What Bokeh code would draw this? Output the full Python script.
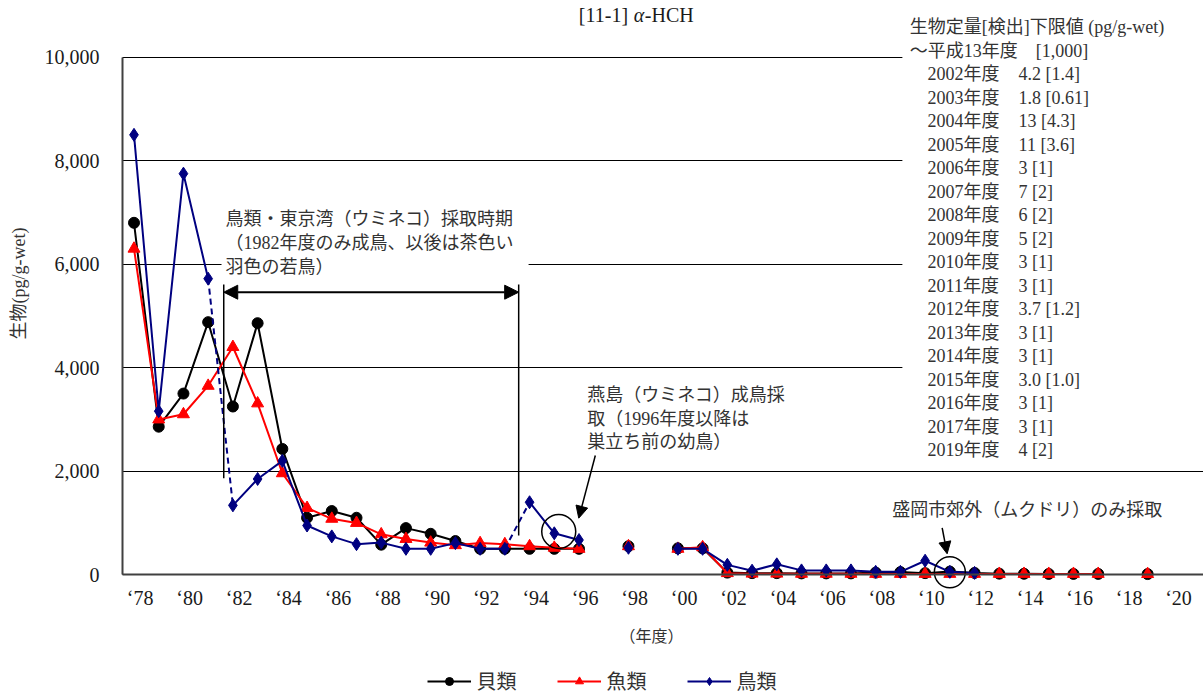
import math
from bokeh.plotting import figure
from bokeh.models import (Range1d, FixedTicker, NumeralTickFormatter, Legend, LegendItem,
                          Label, BoxAnnotation, Arrow, NormalHead)
from bokeh.core.properties import value
from bokeh.embed import file_html
from bokeh.resources import INLINE

FONT = "'Liberation Serif', 'Noto Sans CJK JP'"
TXT = "#333333"

# ---------------- data ----------------
years = list(range(1978, 2020))
shellfish = [6800, 2860, 3500, 4880, 3250, 4860, 2430, 1100, 1230, 1100,
             580, 900, 790, 650, 500, 500, 500, 500, 500, None,
             550, None, 510, 510, 40, 30, 30, 25, 25, 25,
             40, 50, 30, 60, 35, 20, 18, 15, 15, 15,
             None, 12]
fish = [6300, 3000, 3100, 3650, 4400, 3310, 1960, 1290, 1080, 1000,
        780, 690, 620, 570, 610, 590, 550, 520, 500, None,
        550, None, 500, 530, 30, 20, 20, 18, 18, 18,
        15, 15, 15, 15, 15, 15, 15, 15, 15, 15,
        None, 12]
birds = [8500, 3160, 7750, 5720, 1340, 1850, 2200, 950, 740, 590,
         620, 500, 500, 610, 500, 500, 1400, 800, 670, None,
         520, None, 500, 500, 190, 77, 200, 83, 83, 83,
         55, 55, 270, 55, 35, None, None, None, None, None,
         None, None]
bird_dashed_after = [1981, 1993]   # sampling-site changes (dashed link)

series_names = ["貝類", "魚類", "鳥類"]
tick_years = list(range(1978, 2021, 2))
tick_labels = ["‘78", "‘80", "‘82", "‘84", "‘86", "‘88", "‘90", "‘92", "‘94", "‘96", "‘98",
               "‘00", "‘02", "‘04", "‘06", "‘08", "‘10", "‘12", "‘14", "‘16", "‘18", "‘20"]
y_ticks = [0, 2000, 4000, 6000, 8000, 10000]

title_parts = ["[11-1]", "α", "-HCH"]
y_label = "生物(pg/g-wet)"
x_label = "（年度）"

note_header = "生物定量[検出]下限値 (pg/g-wet)"
note_early = ["～平成13年度", "[1,000]"]
note_years = ["2002年度", "2003年度", "2004年度", "2005年度", "2006年度", "2007年度",
              "2008年度", "2009年度", "2010年度", "2011年度", "2012年度", "2013年度",
              "2014年度", "2015年度", "2016年度", "2017年度", "2019年度"]
note_values = ["4.2 [1.4]", "1.8 [0.61]", "13 [4.3]", "11 [3.6]", "3 [1]", "7 [2]",
               "6 [2]", "5 [2]", "3 [1]", "3 [1]", "3.7 [1.2]", "3 [1]",
               "3 [1]", "3.0 [1.0]", "3 [1]", "3 [1]", "4 [2]"]

ann1 = ["鳥類・東京湾（ウミネコ）採取時期", "（1982年度のみ成鳥、以後は茶色い", "羽色の若鳥）"]
ann2 = ["燕島（ウミネコ）成鳥採", "取（1996年度以降は", "巣立ち前の幼鳥）"]
ann3 = ["盛岡市郊外（ムクドリ）のみ採取"]


def nn(v):
    return [float("nan") if x is None else x for x in v]


# plot-area extent (axis lines) and the full canvas ranges
X0, X1 = 1977.53, 2021.26
p = figure(width=1203, height=696, output_backend="svg", toolbar_location=None,
           x_range=Range1d(1972.60, 2021.26), y_range=Range1d(-2354, 11096),
           min_border=0)
p.outline_line_color = None
p.background_fill_color = "white"
p.border_fill_color = "white"

# axes drawn at fixed locations inside the canvas
xa = p.xaxis[0]
xa.fixed_location = 0
xa.bounds = (X0, X1)
xa.ticker = FixedTicker(ticks=[t + 0.25 for t in tick_years])
xa.major_label_overrides = {t + 0.25: lab for t, lab in zip(tick_years, tick_labels)}
xa.axis_line_color = "#404040"
xa.axis_line_width = 2
xa.major_tick_line_color = None
xa.minor_tick_line_color = None
xa.major_tick_out = 0
xa.major_tick_in = 0
xa.major_label_text_font = FONT
xa.major_label_text_font_size = "20px"
xa.major_label_text_color = "#1a1a1a"
xa.major_label_standoff = 12

ya = p.yaxis[0]
ya.fixed_location = X0
ya.ticker = FixedTicker(ticks=y_ticks)
ya.formatter = NumeralTickFormatter(format="0,0")
ya.bounds = (0, 10000)
ya.axis_line_color = "#404040"
ya.axis_line_width = 2
ya.major_tick_line_color = None
ya.minor_tick_line_color = None
ya.major_tick_out = 0
ya.major_tick_in = 0
ya.major_label_text_font = FONT
ya.major_label_text_font_size = "20px"
ya.major_label_text_color = "#1a1a1a"
ya.major_label_standoff = 23

p.xgrid.visible = False
p.ygrid.ticker = FixedTicker(ticks=y_ticks)
p.ygrid.grid_line_color = "black"
p.ygrid.grid_line_width = 1
try:
    p.ygrid.cross_bounds = (X0, X1)
except Exception:
    p.ygrid.visible = False
    p.segment([X0] * len(y_ticks), y_ticks, [X1] * len(y_ticks), y_ticks,
              line_color="black", line_width=1, level="underlay")

# axis titles
p.add_layout(Label(x=1973.36, y=5627, text=y_label, angle=math.pi / 2, text_font=FONT,
                   text_font_size="18px", text_align="center", text_baseline="middle",
                   text_color=TXT))
p.add_layout(Label(x=1998.93, y=-1194, text=x_label, text_font=FONT,
                   text_font_size="16px", text_align="center", text_baseline="middle",
                   text_color=TXT))

# white boxes behind the text blocks (they interrupt the gridlines)
p.add_layout(BoxAnnotation(left=2009.08, bottom=2149, fill_color="white", fill_alpha=1,
                           line_color=None, level="underlay"))
p.add_layout(BoxAnnotation(left=1981.54, right=1993.96, bottom=5704, top=7173,
                           fill_color="white", fill_alpha=1, line_color=None, level="underlay"))

# ---------------- series ----------------
lb = p.line(years, nn(shellfish), line_color="black", line_width=2)
sb = p.scatter(years, nn(shellfish), marker="circle", size=11, fill_color="black", line_color="black")

lr = p.line(years, nn(fish), line_color="#FF0000", line_width=2)
sr = p.scatter(years, nn(fish), marker="triangle", size=12, fill_color="#FF0000", line_color="#FF0000")

bx, by = [], []
for yr, v in zip(years, birds):
    bx.append(yr)
    by.append(float("nan") if v is None else v)
    if yr in bird_dashed_after:
        bx.append(float("nan"))
        by.append(float("nan"))
ln = p.line(bx, by, line_color="#000080", line_width=2)
dx0 = [yr for yr in bird_dashed_after]
dy0 = [birds[years.index(yr)] for yr in bird_dashed_after]
dx1 = [yr + 1 for yr in bird_dashed_after]
dy1 = [birds[years.index(yr) + 1] for yr in bird_dashed_after]
p.segment(dx0, dy0, dx1, dy1, line_color="#000080", line_width=2, line_dash="6 4")
sn = p.scatter(years, nn(birds), marker="diamond", size=13, fill_color="#000080", line_color="#000080")

# ---------------- annotations ----------------
for xv, ybot in [(1981.63, 1865), (1993.56, 757)]:
    p.add_layout(Arrow(x_start=xv, y_start=5608, x_end=xv, y_end=ybot, start=None, end=None,
                       line_color="black", line_width=1.5))
p.add_layout(Arrow(x_start=1981.63, y_start=5459, x_end=1993.56, y_end=5459,
                   start=NormalHead(size=14, fill_color="black", line_color="black"),
                   end=NormalHead(size=14, fill_color="black", line_color="black"),
                   line_color="black", line_width=2))
p.text([1981.70] * 3, [6877 - 468 * i for i in range(3)], ann1,
       text_font=value(FONT), text_font_size="18px", text_baseline="middle",
       text_align="left", text_color=TXT)

p.text([1996.33] * 3, [3463 - 451 * i for i in range(3)], ann2,
       text_font=value(FONT), text_font_size="18px", text_baseline="middle",
       text_align="left", text_color=TXT)
p.add_layout(Arrow(x_start=1996.66, y_start=2303, x_end=1995.99, y_end=1092,
                   end=NormalHead(size=12, fill_color="black", line_color="black"),
                   line_color="black", line_width=1.5))
p.scatter([1995.18], [835], marker="circle", size=34, fill_alpha=0, line_color="black", line_width=1.5)

p.text([2008.67], [1241], ann3,
       text_font=value(FONT), text_font_size="18px", text_baseline="middle",
       text_align="left", text_color=TXT)
p.add_layout(Arrow(x_start=2010.69, y_start=906, x_end=2010.89, y_end=404,
                   end=NormalHead(size=12, fill_color="black", line_color="black"),
                   line_color="black", line_width=1.5))
p.scatter([2011.0], [48], marker="circle", size=31, fill_alpha=0, line_color="black", line_width=1.5)

# detection-limit note (top right)
step = 454
y0 = 10580
p.text([2009.38], [y0], [note_header], text_font=value(FONT), text_font_size="18px",
       text_baseline="middle", text_align="left", text_color=TXT)
p.text([2009.38, 2014.47], [y0 - step] * 2, note_early, text_font=value(FONT),
       text_font_size="18px", text_baseline="middle", text_align="left", text_color=TXT)
ny = [y0 - step * (i + 2) for i in range(len(note_years))]
p.text([2010.10] * len(note_years), ny, note_years, text_font=value(FONT),
       text_font_size="18px", text_baseline="middle", text_align="left", text_color=TXT)
p.text([2013.78] * len(note_values), ny, note_values, text_font=value(FONT),
       text_font_size="18px", text_baseline="middle", text_align="left", text_color=TXT)

# title
for txt, off, style in zip(title_parts, [-57, -2, 9], ["normal", "italic", "normal"]):
    p.add_layout(Label(x=1998.3, y=10825, x_offset=off, text=txt, text_font=FONT,
                       text_font_size="20px", text_font_style=style, text_baseline="middle",
                       text_align="left", text_color="#1a1a1a"))

# legend
legend = Legend(items=[LegendItem(label=series_names[0], renderers=[lb, sb]),
                       LegendItem(label=series_names[1], renderers=[lr, sr]),
                       LegendItem(label=series_names[2], renderers=[ln, sn])],
                orientation="horizontal", location="bottom_center",
                glyph_width=44, glyph_height=20, label_standoff=6, spacing=40,
                padding=0, margin=1, border_line_color=None, background_fill_alpha=0,
                label_text_font=FONT, label_text_font_size="20px", label_text_color=TXT)
p.add_layout(legend)

open("out.html", "w").write(file_html(p, INLINE))
